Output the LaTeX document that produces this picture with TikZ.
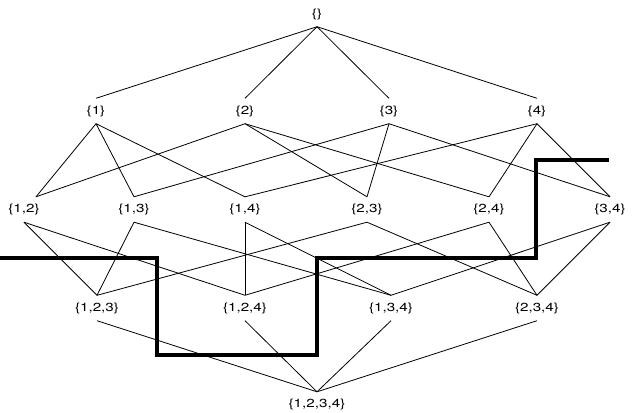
\documentclass[tikz,border=0pt]{standalone}
\usepackage{fontspec}
\setmainfont{TeX Gyre Heros}[FakeStretch=1.3]
\begin{document}
\begin{tikzpicture}[x=1pt,y=-1pt,
  lbl/.style={inner sep=0pt, minimum height=25pt, font=\fontsize{11.7pt}{13pt}\selectfont},
  edge/.style={draw, line width=0.8pt},
  cut/.style={draw, line width=3.5pt, line join=miter}]
\useasboundingbox (0,0) rectangle (633,413);
% row 0
\node[lbl] (e) at (317,14) {\{\}};
% row 1
\node[lbl] (s1) at (96,111) {\{1\}};
\node[lbl] (s2) at (245,111) {\{2\}};
\node[lbl] (s3) at (389,111) {\{3\}};
\node[lbl] (s4) at (537,111) {\{4\}};
% row 2
\node[lbl] (p12) at (24,209.5) {\{1,2\}};
\node[lbl] (p13) at (134,209.5) {\{1,3\}};
\node[lbl] (p14) at (245,209.5) {\{1,4\}};
\node[lbl] (p23) at (367,209.5) {\{2,3\}};
\node[lbl] (p24) at (489,209.5) {\{2,4\}};
\node[lbl] (p34) at (610,209.5) {\{3,4\}};
% row 3
\node[lbl] (t123) at (97,308) {\{1,2,3\}};
\node[lbl] (t124) at (245,308) {\{1,2,4\}};
\node[lbl] (t134) at (391,308) {\{1,3,4\}};
\node[lbl] (t234) at (537,308) {\{2,3,4\}};
% row 4
\node[lbl] (f) at (317,404.5) {\{1,2,3,4\}};
% edges row 0 -> 1
\foreach \s in {s1,s2,s3,s4} \path[edge] (e.south) -- (\s.north);
% edges row 1 -> 2
\path[edge] (s1.south) -- ([xshift=12pt]p12.north);
\path[edge] (s1.south) -- (p13.north);
\path[edge] (s1.south) -- (p14.north);
\path[edge] (s2.south) -- ([xshift=12pt]p12.north);
\path[edge] (s2.south) -- (p23.north);
\path[edge] (s2.south) -- (p24.north);
\path[edge] (s3.south) -- (p13.north);
\path[edge] (s3.south) -- (p23.north);
\path[edge] (s3.south) -- (p34.north);
\path[edge] (s4.south) -- (p14.north);
\path[edge] (s4.south) -- (p24.north);
\path[edge] (s4.south) -- (p34.north);
% edges row 2 -> 3
\path[edge] (p12.south) -- (t123.north);
\path[edge] (p12.south) -- (t124.north);
\path[edge] (p13.south) -- (t123.north);
\path[edge] (p13.south) -- (t134.north);
\path[edge] (p14.south) -- (t124.north);
\path[edge] (p14.south) -- (t134.north);
\path[edge] (p23.south) -- (t123.north);
\path[edge] (p23.south) -- (t234.north);
\path[edge] (p24.south) -- (t124.north);
\path[edge] (p24.south) -- (t234.north);
\path[edge] (p34.south) -- (t134.north);
\path[edge] (p34.south) -- (t234.north);
% edges row 3 -> 4
\foreach \t in {t123,t124,t134,t234} \path[edge] (\t.south) -- (f.north);
% cut line
\path[cut] (0,258) -- (157,258) -- (157,355) -- (317,355) -- (317,258)
  -- (536,258) -- (536,160) -- (609,160);
\end{tikzpicture}
\end{document}
